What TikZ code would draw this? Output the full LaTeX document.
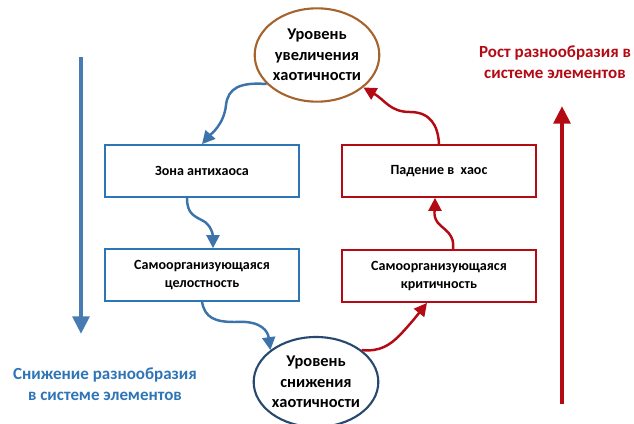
\documentclass[tikz,border=0pt]{standalone}
\usepackage{fontspec}
\setmainfont{Carlito}
\usepackage{tikz}
\usetikzlibrary{shapes.geometric,arrows.meta}
\definecolor{antiblue}{RGB}{46,117,182}
\definecolor{linkblue}{RGB}{60,115,170}
\definecolor{chaosred}{RGB}{180,10,20}
\definecolor{risebrown}{RGB}{165,100,45}
\definecolor{fallnavy}{RGB}{40,72,110}
\definecolor{trendblue}{RGB}{72,122,180}
\tikzset{
  zonebox/.style={draw,line width=1.8pt,fill=white,minimum width=5.8cm,minimum height=1.55cm,
    align=center,font=\fontsize{12}{15.5}\selectfont\bfseries},
  levelell/.style={ellipse,draw,line width=1.8pt,fill=white,inner sep=0pt,align=center,
    font=\fontsize{14}{17.5}\selectfont\bfseries},
  wavy/.style={line width=2.1pt,-{Triangle[length=11pt,width=11pt]}},
  trend/.style={line width=4pt,-{Triangle[length=15pt,width=14pt]}},
  trendtext/.style={align=center,font=\fontsize{14.5}{18}\selectfont\bfseries}
}
\begin{document}
\begin{tikzpicture}[x=0.03cm,y=-0.03cm]
\useasboundingbox (0,0) rectangle (634,424);
% levels of chaos
\node[levelell,draw=risebrown,minimum width=3.6cm,minimum height=2.8cm] (rise) at (317,55)
  {Уровень\\увеличения\\хаотичности};
\node[levelell,draw=fallnavy,minimum width=3.5cm,minimum height=2.7cm] (fall) at (316,382)
  {Уровень\\снижения\\хаотичности};
% stages
\node[zonebox,draw=antiblue] (anti) at (202,171) {Зона антихаоса};
\node[zonebox,draw=antiblue] (whole) at (202,275) {Самоорганизующаяся\\целостность};
\node[zonebox,draw=chaosred] (drop) at (439,171) {Падение в\ \ хаос};
\node[zonebox,draw=chaosred] (crit) at (439,276) {Самоорганизующаяся\\критичность};
% wavy links
\draw[wavy,linkblue] (rise.210) .. controls (240,82) and (228,88) .. (226,105)
  .. controls (224,125) and (210,135) .. (anti.north);
\draw[wavy,linkblue] ([xshift=-0.45cm]anti.south) .. controls (187,215) and (195,216) .. (205,222)
  .. controls (213,228) and (213,238) .. ([xshift=0.33cm]whole.north);
\draw[wavy,linkblue] (whole.south) .. controls (205,318) and (215,322) .. (235,322)
  .. controls (262,320) and (268,332) .. (fall.145);
\draw[wavy,chaosred] (fall.35) .. controls (380,352) and (390,345) .. (400,335)
  .. controls (412,322) and (415,318) .. ([xshift=-0.36cm]crit.south);
\draw[wavy,chaosred] ([xshift=0.42cm]crit.north) .. controls (455,235) and (445,230) .. (440,225)
  .. controls (432,218) and (435,208) .. ([xshift=-0.12cm]drop.south);
\draw[wavy,chaosred] (drop.north) .. controls (438,125) and (430,112) .. (410,112)
  .. controls (390,112) and (385,100) .. (rise.-35);
% diversity trends
\coordinate (downtop) at (81,57);
\coordinate (downend) at (81,334);
\coordinate (upfoot) at (562,404);
\coordinate (uptop) at (562,106);
\draw[trend,trendblue] (downtop) -- (downend);
\draw[trend,chaosred] (upfoot) -- (uptop);
\node[trendtext,text=antiblue] (lessdiv) at (105,384) {Снижение разнообразия\\в системе элементов};
\node[trendtext,text=chaosred] (morediv) at (555,62) {Рост разнообразия в\\системе элементов};
\end{tikzpicture}
\end{document}
